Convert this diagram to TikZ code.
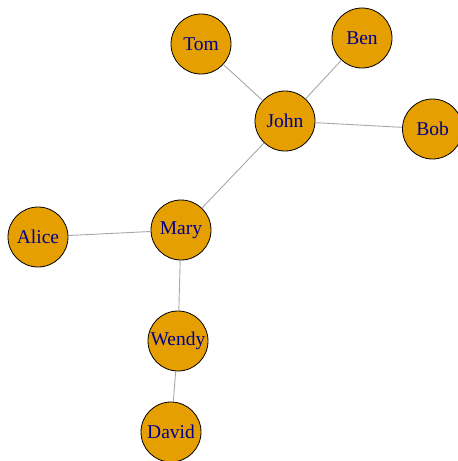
\documentclass[tikz,border=0pt]{standalone}
\usepackage{fontspec}
\setmainfont{Liberation Serif}
\definecolor{vfill}{HTML}{E69F00}
\definecolor{vtext}{HTML}{00008B}
\definecolor{edgec}{HTML}{A8A8A8}
\begin{document}
\begin{tikzpicture}[x=1pt,y=-1pt,
  vert/.style={circle,draw=black,line width=0.8pt,fill=vfill,minimum size=60pt,inner sep=0pt,text=vtext,font=\fontsize{19.5}{21}\selectfont},
  edge/.style={draw=edgec,line width=0.9pt}]
\useasboundingbox (0,0) rectangle (458,461);
\node[vert] (Tom) at (201,44) {Tom};
\node[vert] (Ben) at (362,38) {Ben};
\node[vert] (John) at (285,121) {John};
\node[vert] (Bob) at (432.5,129) {Bob};
\node[vert] (Alice) at (38,237) {Alice};
\node[vert] (Mary) at (181,230) {Mary};
\node[vert] (Wendy) at (178,341) {Wendy};
\node[vert] (David) at (171,432) {David};
\draw[edge] (Tom) -- (John);
\draw[edge] (Ben) -- (John);
\draw[edge] (Bob) -- (John);
\draw[edge] (Mary) -- (John);
\draw[edge] (Alice) -- (Mary);
\draw[edge] (Wendy) -- (Mary);
\draw[edge] (David) -- (Wendy);
\end{tikzpicture}
\end{document}
